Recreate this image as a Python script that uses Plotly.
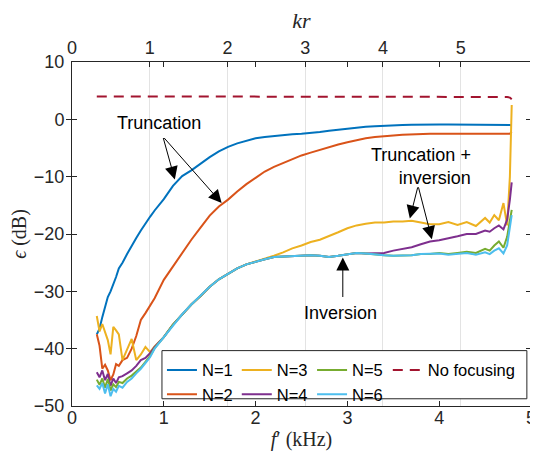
import plotly.graph_objects as go

# ---------------- data ----------------
freq_khz = [0.27, 0.30, 0.33, 0.36, 0.39, 0.42, 0.45, 0.48, 0.51, 0.55, 0.60, 0.65, 0.70, 0.75, 0.80,
            0.85, 0.90, 1.0, 1.1, 1.2, 1.3, 1.4, 1.5, 1.6, 1.7, 1.8, 1.9, 2.0, 2.1, 2.2, 2.3, 2.4, 2.5,
            2.6, 2.7, 2.8, 2.9, 3.0, 3.1, 3.2, 3.3, 3.4, 3.5, 3.6, 3.7, 3.8, 3.9, 4.0, 4.1, 4.2, 4.3,
            4.4, 4.5, 4.55, 4.6, 4.65, 4.7, 4.74, 4.77, 4.79]

err_n1 = [-37.5, -36.5, -34.5, -32.8, -31.0, -30.0, -28.8, -27.5, -26.0, -25.0, -23.5, -22.0, -20.7, -19.4, -18.1,
          -17.0, -15.9, -13.9, -11.6, -9.9, -8.9, -7.7, -6.6, -5.6, -4.8, -4.2, -3.7, -3.3, -3.1, -2.9, -2.7, -2.6, -2.5,
          -2.4, -2.2, -2.0, -1.8, -1.6, -1.4, -1.3, -1.2, -1.1, -1.0, -1.0, -0.95, -0.9, -0.9, -0.9, -0.9, -0.9, -0.9,
          -0.95, -0.95, -1.0, -1.0, -1.0, -1.0, -1.0, -1.0, -1.1]

err_n2 = [-37.5, -39.5, -43.5, -42.8, -43.8, -45.5, -44.5, -42.7, -43.0, -42.0, -41.6, -40.0, -37.8, -35.0, -33.8,
          -32.6, -31.2, -28.0, -25.6, -23.3, -21.0, -18.9, -16.8, -15.2, -14.0, -12.6, -11.3, -10.2, -9.1, -8.3, -7.6, -6.9, -6.3,
          -5.8, -5.3, -4.8, -4.4, -4.0, -3.6, -3.3, -3.1, -2.9, -2.8, -2.7, -2.6, -2.6, -2.5, -2.5, -2.5, -2.5, -2.5,
          -2.5, -2.5, -2.6, -2.6, -2.6, -2.6, -2.6, -2.5, -2.2]

err_n3 = [-34.3, -37.0, -35.7, -37.3, -38.5, -41.0, -36.2, -36.8, -37.5, -42.0, -40.0, -38.3, -42.0, -41.0, -39.7,
          -40.6, -39.6, -38.0, -35.8, -34.0, -32.3, -30.8, -29.2, -27.9, -26.9, -26.0, -25.3, -24.8, -24.4, -23.8, -23.2, -22.5, -22.0,
          -21.4, -21.0, -20.4, -19.7, -19.0, -18.5, -18.2, -18.0, -18.0, -17.8, -17.8, -17.7, -18.0, -18.3, -18.3, -17.9, -18.4, -17.9,
          -18.6, -17.2, -18.0, -16.7, -17.6, -14.6, -18.5, -10.0, 2.5]

err_n4 = [-44.1, -45.0, -43.8, -45.5, -44.4, -46.5, -45.2, -46.0, -45.0, -44.8, -44.3, -43.8, -43.0, -42.0, -41.6,
          -40.8, -39.7, -38.0, -35.8, -34.0, -32.3, -30.8, -29.2, -27.9, -26.9, -26.0, -25.3, -24.8, -24.4, -24.0, -23.9, -23.8, -23.7,
          -23.7, -23.8, -24.0, -23.8, -23.5, -23.3, -23.4, -23.4, -23.3, -22.9, -22.6, -22.3, -21.8, -21.3, -21.1, -20.8, -20.4, -20.0,
          -20.0, -19.4, -19.6, -19.0, -18.5, -19.2, -17.5, -14.0, -11.0]

err_n5 = [-45.4, -46.3, -45.2, -46.8, -45.3, -47.3, -46.2, -46.7, -45.8, -46.0, -45.2, -44.7, -44.0, -43.3, -42.3,
          -41.3, -39.9, -38.0, -35.8, -34.0, -32.3, -30.8, -29.2, -27.9, -26.9, -26.0, -25.3, -24.8, -24.4, -24.0, -23.9, -23.8, -23.7,
          -23.7, -23.8, -24.0, -23.8, -23.5, -23.3, -23.4, -23.6, -23.7, -23.8, -23.8, -23.7, -23.5, -23.5, -23.3, -23.5, -23.3, -23.1,
          -23.3, -22.6, -22.9, -22.0, -21.3, -22.4, -20.5, -17.5, -15.8]

err_n6 = [-46.4, -47.0, -46.0, -47.8, -46.2, -48.3, -47.0, -47.5, -46.5, -46.8, -45.8, -45.2, -44.3, -43.5, -42.5,
          -41.5, -40.0, -38.0, -35.8, -34.0, -32.3, -30.8, -29.2, -27.9, -26.9, -26.0, -25.3, -24.8, -24.4, -24.0, -23.9, -23.8, -23.7,
          -23.7, -23.8, -24.0, -23.8, -23.5, -23.3, -23.4, -23.6, -23.7, -23.8, -23.8, -23.7, -23.5, -23.5, -23.4, -23.6, -23.5, -23.3,
          -23.6, -23.2, -23.5, -22.9, -22.5, -23.4, -22.0, -19.0, -16.7]

err_nofocus = [4.0, 4.0, 4.0, 4.0, 4.0, 4.0, 4.0, 4.0, 4.0, 4.0, 4.0, 4.0, 4.0, 4.0, 4.0,
               4.0, 4.0, 4.0, 4.0, 4.0, 4.0, 4.0, 4.0, 4.0, 4.0, 4.0, 4.0, 4.0, 4.0, 4.0, 4.0, 4.0, 4.0,
               4.0, 4.0, 4.0, 4.0, 4.0, 4.0, 4.0, 4.0, 4.0, 4.0, 4.0, 4.0, 4.0, 4.0, 4.0, 4.0, 3.9, 3.9,
               3.9, 3.9, 3.9, 3.9, 3.9, 4.0, 3.9, 3.8, 3.5]

series_names = ["N=1", "N=2", "N=3", "N=4", "N=5", "N=6"]
series_values = [err_n1, err_n2, err_n3, err_n4, err_n5, err_n6]
series_colors = ["#0072BD", "#D95319", "#EDB120", "#7E2F8E", "#77AC30", "#4DBEEE"]
series_legend = ["legend", "legend", "legend2", "legend2", "legend3", "legend3"]

f_ticks = [0, 1, 2, 3, 4, 5]
kr_ticks = [0, 1, 2, 3, 4, 5]
y_ticks = [-50, -40, -30, -20, -10, 0, 10]
KR_PER_KHZ = 1.181
F_RANGE = [0, 5]
Y_RANGE = [-50, 10]

# ---------------- figure ----------------
AX = "#262626"
TICK_FONT = dict(family="Liberation Sans, Arial, sans-serif", size=18, color=AX)
SERIF = "Liberation Serif, Times New Roman, serif"

fig = go.Figure()
for name, vals, col, lg in zip(series_names, series_values, series_colors, series_legend):
    fig.add_trace(go.Scatter(x=freq_khz, y=vals, mode="lines", name=name,
                             line=dict(color=col, width=2), legend=lg))
fig.add_trace(go.Scatter(x=freq_khz, y=err_nofocus, mode="lines", name="No focusing",
                         line=dict(color="#A2142F", width=2, dash="10px,7px"), legend="legend4"))
# invisible carrier so the top (kr) axis gets drawn
fig.add_trace(go.Scatter(x=kr_ticks, y=[None] * len(kr_ticks), xaxis="x2", yaxis="y",
                         mode="lines", showlegend=False, hoverinfo="skip"))

# the page body has an 8px margin, so the figure is sized/margined to compensate
fig.update_layout(
    width=530, height=443,
    margin=dict(l=64, r=7, t=54, b=45, autoexpand=False),
    plot_bgcolor="white", paper_bgcolor="white",
    font=dict(family="Liberation Sans, Arial, sans-serif", size=16, color=AX),
    xaxis=dict(range=F_RANGE, tickvals=f_ticks, ticks="inside", ticklen=5, tickcolor=AX,
               showline=True, linecolor=AX, linewidth=1, mirror="allticks", showgrid=False,
               zeroline=False, tickfont=TICK_FONT, automargin=False, ticklabelstandoff=-5,
               title=dict(text="<i>f</i>′ (kHz)", font=dict(family=SERIF, size=20, color=AX), standoff=14)),
    xaxis2=dict(range=[F_RANGE[0] * KR_PER_KHZ, F_RANGE[1] * KR_PER_KHZ], tickvals=kr_ticks,
                overlaying="x", side="top", anchor="y", ticks="inside", ticklen=5, tickcolor=AX,
                showline=False, showgrid=True, gridcolor="#e3e3e3", gridwidth=1, zeroline=False,
                tickfont=TICK_FONT, automargin=False, ticklabelstandoff=3,
                title=dict(text="<i>kr</i>", font=dict(family=SERIF, size=22, color=AX), standoff=14)),
    yaxis=dict(range=Y_RANGE, tickvals=y_ticks, ticks="inside", ticklen=5, tickcolor=AX,
               showline=True, linecolor=AX, linewidth=1, mirror="allticks", showgrid=False,
               zeroline=False, tickfont=TICK_FONT, automargin=False, ticklabelstandoff=3,
               title=dict(text="<i>ϵ</i> (dB)", font=dict(family=SERIF, size=20, color=AX), standoff=14)),
)

leg_common = dict(orientation="v", bgcolor="rgba(0,0,0,0)", borderwidth=0, xanchor="left",
                  yanchor="top", y=0.155, font=dict(size=16.5, color="black"), tracegroupgap=0,
                  itemwidth=30)
fig.update_layout(
    legend=dict(x=0.196, **leg_common),
    legend2=dict(x=0.359, **leg_common),
    legend3=dict(x=0.523, **leg_common),
    legend4=dict(x=0.688, **leg_common),
)

# legend box
fig.add_shape(type="rect", xref="paper", yref="paper", x0=0.196, x1=0.991, y0=0.021, y1=0.161,
              line=dict(color=AX, width=1), fillcolor="white", layer="above")

ANN_FONT = dict(family="Liberation Sans, Arial, sans-serif", size=18, color="black")
# text labels
fig.add_annotation(x=0.948, y=-0.7, text="Truncation", showarrow=False, font=ANN_FONT)
fig.add_annotation(x=4.37, y=-8.2, text="Truncation +<br>inversion", showarrow=False,
                   font=ANN_FONT, xanchor="right", align="right")
fig.add_annotation(x=2.92, y=-33.75, text="Inversion", showarrow=False, font=ANN_FONT)

# arrows
arrows = [
    ((0.99, -3.0), (1.12, -10.5)),
    ((0.99, -3.0), (1.63, -14.6)),
    ((3.77, -11.6), (3.68, -17.3)),
    ((3.77, -11.6), (3.92, -20.9)),
    ((2.95, -31.25), (2.95, -24.1)),
]
for (tx, ty), (hx, hy) in arrows:
    fig.add_annotation(x=hx, y=hy, ax=tx, ay=ty, xref="x", yref="y", axref="x", ayref="y",
                       text="", showarrow=True, arrowhead=2, arrowsize=2.6, arrowwidth=1,
                       arrowcolor="black")

fig.write_html("out.html")
